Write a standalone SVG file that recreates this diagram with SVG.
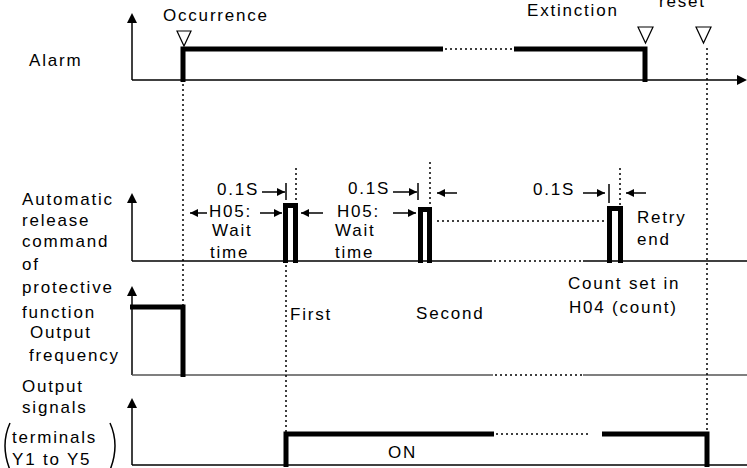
<svg xmlns="http://www.w3.org/2000/svg" width="747" height="468" viewBox="0 0 747 468">
<style>
text{font-family:"Liberation Sans",Arial,sans-serif;font-size:17px;letter-spacing:1.8px;fill:#000}
.ax{stroke:#000;stroke-width:1.5;fill:none}
.gray{stroke:#555;stroke-width:1.5;fill:none}
.sig{stroke:#000;stroke-width:5;fill:none;stroke-linejoin:miter;stroke-linecap:butt}
.dot{stroke:#000;stroke-width:1.5;stroke-dasharray:2 3;fill:none}
.dim{stroke:#000;stroke-width:1.5;fill:none;marker-end:url(#ah)}
.tri{fill:#fff;stroke:#000;stroke-width:1.2}
</style>
<defs>
<marker id="ah" markerWidth="8" markerHeight="8" refX="8" refY="4" orient="auto" markerUnits="userSpaceOnUse">
<path d="M0,0 L8,4 L0,8 Z" fill="#000"/>
</marker>
<path id="up" d="M-5,10 L0,0 L5,10 Z" fill="#000"/>
</defs>

<g id="connectors">
<!-- axes -->
<line class="ax" x1="132" y1="80" x2="132" y2="20"/>
<use href="#up" x="132" y="13"/>
<line class="ax" x1="132" y1="80" x2="740" y2="80"/>
<path d="M737,75 L747,80 L737,85 Z" fill="#000"/>

<line class="ax" x1="132" y1="261" x2="132" y2="200"/>
<use href="#up" x="132" y="193"/>
<line class="ax" x1="132" y1="261" x2="492" y2="261"/>
<line class="dot" x1="494" y1="261" x2="583" y2="261"/>
<line class="ax" x1="583" y1="261" x2="747" y2="261"/>

<line class="ax" x1="132" y1="375" x2="132" y2="293"/>
<use href="#up" x="132" y="286"/>
<line class="gray" x1="132" y1="375" x2="493" y2="375"/>
<line class="dot" x1="495" y1="375" x2="583" y2="375"/>
<line class="gray" x1="583" y1="375" x2="747" y2="375"/>

<line class="ax" x1="132" y1="465" x2="132" y2="405"/>
<use href="#up" x="132" y="398"/>
<line class="ax" x1="132" y1="465" x2="747" y2="465"/>

<!-- vertical dotted guides -->
<line class="dot" x1="183" y1="84" x2="183" y2="307"/>
<line class="dot" x1="707" y1="48" x2="707" y2="432"/>
<line class="dot" x1="286" y1="265" x2="286" y2="432"/>
<line class="dot" x1="296" y1="168" x2="296" y2="203"/>
<line class="dot" x1="430" y1="162" x2="430" y2="207"/>
<line class="dot" x1="620" y1="168" x2="620" y2="206"/>
<line class="dot" x1="437" y1="221" x2="607" y2="221"/>

<!-- ticks -->
<line class="ax" x1="286" y1="183" x2="286" y2="200"/>
<line class="ax" x1="418" y1="183" x2="418" y2="200"/>
<line class="ax" x1="609" y1="184" x2="609" y2="203"/>

<!-- dimension arrows -->
<line class="dim" x1="262" y1="192" x2="285" y2="192"/>
<line class="dim" x1="207" y1="213" x2="190" y2="213"/>
<line class="dim" x1="260" y1="213" x2="282" y2="213"/>
<line class="dim" x1="323" y1="213" x2="301" y2="213"/>
<line class="dim" x1="393" y1="213" x2="416" y2="213"/>
<line class="dim" x1="393" y1="192" x2="417" y2="192"/>
<line class="dim" x1="457" y1="193" x2="437" y2="193"/>
<line class="dim" x1="583" y1="193" x2="605" y2="193"/>
<line class="dim" x1="646" y1="193" x2="626" y2="193"/>
</g>

<g id="alarm">
<path class="sig" d="M183,82 V49 H443"/>
<line class="dot" x1="445" y1="49" x2="514" y2="49"/>
<path class="sig" d="M514,49 H645 V82"/>
<polygon class="tri" points="177,31 191,31 184,46"/>
<polygon class="tri" points="638,27 653,27 645.5,43"/>
<polygon class="tri" points="696,27 711,27 703.5,43"/>
<text x="163" y="21">Occurrence</text>
<text x="527" y="16">Extinction</text>
<text x="659" y="7">reset</text>
<text x="29" y="66">Alarm</text>
</g>

<g id="release">
<path class="sig" d="M285.5,263 V205.5 H295.5 V263"/>
<path class="sig" d="M420.5,263 V209.5 H429.5 V263"/>
<path class="sig" d="M609.5,263 V208.5 H620.5 V263"/>
<text x="22" y="205">Automatic</text>
<text x="22" y="226">release</text>
<text x="22" y="247">command</text>
<text x="22" y="270">of</text>
<text x="22" y="293">protective</text>
<text x="22" y="318">function</text>
<text x="217" y="195">0.1S</text>
<text x="348" y="194">0.1S</text>
<text x="533" y="195">0.1S</text>
<text x="209" y="217">H05:</text>
<text x="212" y="236">Wait</text>
<text x="210" y="258">time</text>
<text x="337" y="217">H05:</text>
<text x="335" y="236">Wait</text>
<text x="335" y="258">time</text>
<text x="637" y="223">Retry</text>
<text x="637" y="245">end</text>
<text x="568" y="289">Count set in</text>
<text x="569" y="313">H04 (count)</text>
<text x="290" y="320">First</text>
<text x="416" y="319">Second</text>
</g>

<g id="output-frequency">
<path class="sig" d="M130,307 H183 V377"/>
<text x="30" y="338">Output</text>
<text x="29" y="361">frequency</text>
</g>

<g id="output-signals">
<path class="sig" d="M286,467 V434 H494"/>
<line class="dot" x1="496" y1="434" x2="590" y2="434"/>
<path class="sig" d="M602,434 H707 V467"/>
<text x="388" y="458">ON</text>
<text x="22" y="392">Output</text>
<text x="22" y="413">signals</text>
<text x="12" y="443">terminals</text>
<text x="12" y="465">Y1 to Y5</text>
<path class="ax" d="M10,423 Q0,445 10,470"/>
<path class="ax" d="M110,423 Q120,445 110,470"/>
</g>
</svg>
